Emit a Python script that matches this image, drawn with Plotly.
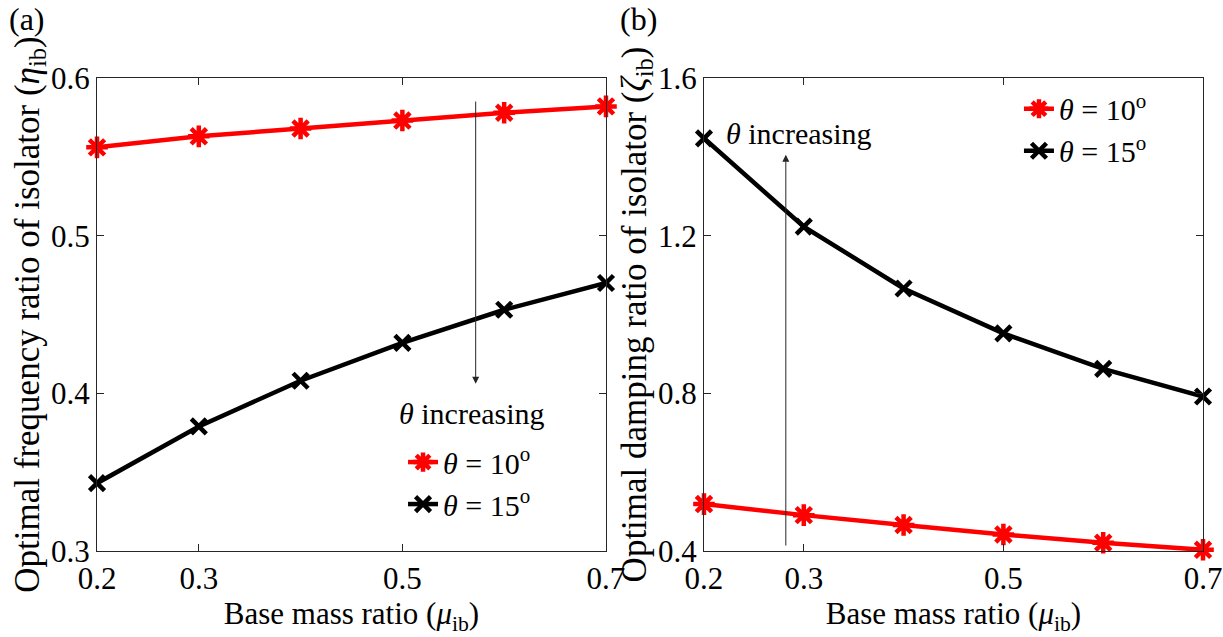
import plotly.graph_objects as go

mu = [0.2, 0.3, 0.4, 0.5, 0.6, 0.7]
eta_10 = [0.556, 0.563, 0.568, 0.573, 0.578, 0.582]
eta_15 = [0.343, 0.379, 0.408, 0.432, 0.453, 0.470]
zeta_10 = [0.519, 0.491, 0.466, 0.442, 0.421, 0.403]
zeta_15 = [1.447, 1.223, 1.066, 0.952, 0.862, 0.792]
x_ticks = [0.2, 0.3, 0.5, 0.7]
y_ticks_a = [0.3, 0.4, 0.5, 0.6]
y_ticks_b = [0.4, 0.8, 1.2, 1.6]

FONT = "Times New Roman, Liberation Serif, serif"
FS = 30
FS_TICK = 31
FS_YT = 35
RED = "#ff0000"
BLK = "#000000"

fig = go.Figure()

def add(x, y, color, symbol, name, xa, ya, legend, msize):
    fig.add_trace(go.Scatter(
        x=x, y=y, mode="lines+markers", name=name,
        line=dict(color=color, width=4.5),
        marker=dict(symbol=symbol, size=msize, color=color,
                    line=dict(color=color, width=4.5)),
        xaxis=xa, yaxis=ya, legend=legend, cliponaxis=False))

n10 = "<i>θ</i> = 10<sup>o</sup>"
n15 = "<i>θ</i> = 15<sup>o</sup>"
add(mu, eta_10, RED, "asterisk-open", n10, "x", "y", "legend", 18)
add(mu, eta_15, BLK, "x-thin-open", n15, "x", "y", "legend", 15)
add(mu, zeta_10, RED, "asterisk-open", n10, "x2", "y2", "legend2", 18)
add(mu, zeta_15, BLK, "x-thin-open", n15, "x2", "y2", "legend2", 15)

axis_common = dict(
    showline=True, linecolor="#262626", linewidth=1, mirror="ticks",
    ticks="inside", ticklen=7, tickcolor="#262626", showgrid=False, zeroline=False,
    automargin=False, ticklabeloverflow="allow",
    tickfont=dict(family=FONT, size=FS_TICK, color="black"),
)

fig.update_layout(
    width=1223, height=637,
    margin=dict(l=97, r=20, t=78, b=86),
    plot_bgcolor="white", paper_bgcolor="white",
    font=dict(family=FONT, size=FS, color="black"),
    xaxis=dict(domain=[0.0, 0.4602], range=[0.2, 0.7], tickvals=x_ticks,
               ticktext=[f"{v:.1f}" for v in x_ticks], anchor="y",
               title=dict(text="Base mass ratio (<i>μ</i><sub>ib</sub>)", standoff=0,
                          font=dict(family=FONT, size=FS + 1)),
               **axis_common),
    yaxis=dict(domain=[0.0, 1.0], range=[0.3, 0.6], tickvals=y_ticks_a,
               ticktext=[f"{v:.1f}" for v in y_ticks_a], anchor="x",
               title=dict(text="Optimal frequency ratio of isolator (<i>η</i><sub>ib</sub>)",
                          standoff=0, font=dict(family=FONT, size=FS_YT)),
               **axis_common),
    xaxis2=dict(domain=[0.5488, 1.0], range=[0.2, 0.7], tickvals=x_ticks,
                ticktext=[f"{v:.1f}" for v in x_ticks], anchor="y2",
                title=dict(text="Base mass ratio (<i>μ</i><sub>ib</sub>)", standoff=0,
                           font=dict(family=FONT, size=FS + 1)),
                **axis_common),
    yaxis2=dict(domain=[0.0, 1.0], range=[0.4, 1.6], tickvals=y_ticks_b,
                ticktext=[f"{v:.1f}" for v in y_ticks_b], anchor="x2",
                title=dict(text="Optimal damping ratio of isolator (<i>ζ</i><sub>ib</sub>)",
                           standoff=0, font=dict(family=FONT, size=FS_YT)),
                **axis_common),
    legend=dict(x=0.2767, y=0.243, xanchor="left", yanchor="top",
                bgcolor="rgba(0,0,0,0)", font=dict(family=FONT, size=FS),
                itemwidth=30, tracegroupgap=0),
    legend2=dict(x=0.8336, y=0.99, xanchor="left", yanchor="top",
                 bgcolor="rgba(0,0,0,0)", font=dict(family=FONT, size=FS),
                 itemwidth=30, tracegroupgap=0),
    showlegend=True,
)

annotations = [
    # arrow (a)
    dict(x=0.572, y=0.406, ax=0.572, ay=0.586, xref="x", yref="y", axref="x", ayref="y",
         showarrow=True, arrowhead=2, arrowsize=1.4, arrowwidth=1, arrowcolor="#262626", text=""),
    dict(x=0.568, y=0.387, xref="x", yref="y", showarrow=False,
         text="<i>θ</i> increasing", font=dict(family=FONT, size=FS)),
    # arrow (b)
    dict(x=0.282, y=1.405, ax=0.282, ay=0.41, xref="x2", yref="y2", axref="x2", ayref="y2",
         showarrow=True, arrowhead=2, arrowsize=1.4, arrowwidth=1, arrowcolor="#262626", text=""),
    dict(x=0.295, y=1.46, xref="x2", yref="y2", showarrow=False,
         text="<i>θ</i> increasing", font=dict(family=FONT, size=FS)),
    dict(x=-0.0815, y=1.167, xref="paper", yref="paper", xanchor="left", yanchor="top",
         showarrow=False, text="(a)", font=dict(family=FONT, size=32)),
    dict(x=0.4715, y=1.167, xref="paper", yref="paper", xanchor="left", yanchor="top",
         showarrow=False, text="(b)", font=dict(family=FONT, size=32)),
]
fig.update_layout(annotations=annotations)

fig.write_html("out.html")
